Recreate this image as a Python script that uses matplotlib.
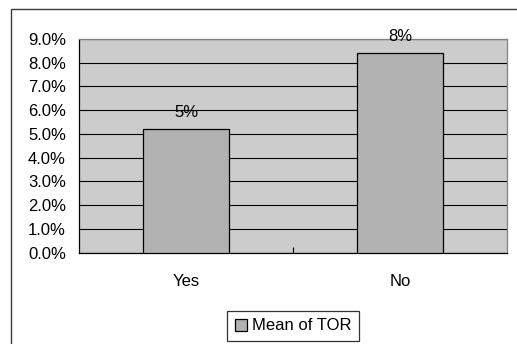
import matplotlib
matplotlib.use("Agg")
import matplotlib.pyplot as plt
from matplotlib.patches import Rectangle
from matplotlib.ticker import FuncFormatter, FixedLocator

plt.rcParams["font.family"] = ["Liberation Sans", "DejaVu Sans"]

categories = ["Yes", "No"]
mean_tor = [0.052, 0.084]
series_name = "Mean of TOR"
y_ticks = [i / 100 for i in range(0, 10)]

W, H = 517, 344
FS = 12
fig = plt.figure(figsize=(W / 100, H / 100), dpi=100)
fig.patch.set_facecolor("white")

# outer chart frame (runs off the right and bottom edges)
fig.patches.append(Rectangle((11 / W, -0.1), 1.2, 1 - 9.3 / H + 0.1,
                             transform=fig.transFigure, fill=False,
                             edgecolor="#3a3a3a", lw=1.0))

ax = fig.add_axes([79 / W, 1 - 252.7 / H, (507 - 79) / W, (252.7 - 39) / H])
ax.set_facecolor("#cccccc")

x = list(range(len(categories)))
bars = ax.bar(x, mean_tor, width=0.40, color="#b2b2b2", edgecolor="black",
              linewidth=0.9, zorder=3, label=series_name)

for xi, v in zip(x, mean_tor):
    ax.annotate(f"{v:.0%}", (xi, v), xytext=(0, 7), textcoords="offset points",
                ha="center", va="bottom", fontsize=FS, zorder=4)

ax.set_xlim(-0.5, len(categories) - 0.5)
ax.set_ylim(0, 0.09)
ax.set_yticks(y_ticks)
ax.yaxis.set_major_formatter(FuncFormatter(lambda v, p: f"{v * 100:.1f}%"))
ax.grid(axis="y", color="black", linewidth=0.8, zorder=1)
ax.set_axisbelow(True)

ax.set_xticks(x)
ax.set_xticklabels(categories)
ax.xaxis.set_minor_locator(FixedLocator([0.5]))
ax.tick_params(axis="x", which="major", length=0, pad=15, labelsize=FS)
ax.tick_params(axis="x", which="minor", direction="in", length=4, width=0.8, color="black")
ax.tick_params(axis="y", length=0, pad=9.5, labelsize=FS)

for side in ("left", "bottom"):
    ax.spines[side].set_color("black")
    ax.spines[side].set_linewidth(0.9)
for side in ("top", "right"):
    ax.spines[side].set_color("#808080")
    ax.spines[side].set_linewidth(0.9)

leg = fig.legend(handles=[bars], labels=[series_name], loc="center",
                 bbox_to_anchor=(293 / W, 1 - 326 / H), fontsize=FS,
                 frameon=True, fancybox=False, shadow=False,
                 handlelength=0.7, handleheight=0.7, handletextpad=0.3,
                 borderpad=0.45, borderaxespad=0)
leg.get_frame().set_edgecolor("black")
leg.get_frame().set_linewidth(0.9)

fig.savefig("out.png", dpi=100)
